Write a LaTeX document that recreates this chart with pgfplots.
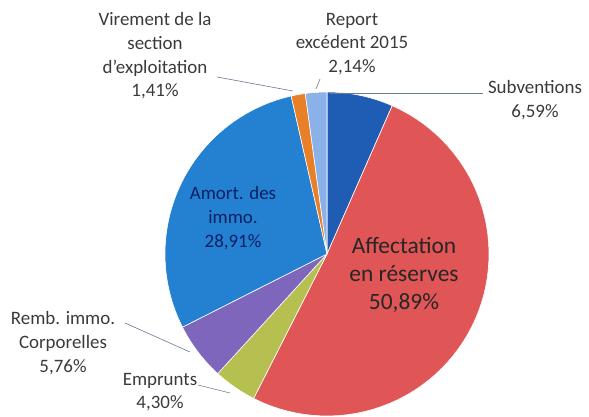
\documentclass[border=0pt]{standalone}
\usepackage{pgfplots}
\pgfplotsset{compat=1.18}
\usepackage{fontspec}
\setmainfont{Carlito}
\definecolor{cSub}{HTML}{1F5DB5}
\definecolor{cAff}{HTML}{E05656}
\definecolor{cEmp}{HTML}{B6C050}
\definecolor{cRem}{HTML}{7E66BC}
\definecolor{cAmo}{HTML}{2480D0}
\definecolor{cVir}{HTML}{E8802A}
\definecolor{cRep}{HTML}{8AB2E8}
\definecolor{txt}{HTML}{3A3A3A}
\definecolor{lead}{HTML}{6A7890}
% shares in percent, clockwise from 12 o'clock
\def\pSub{6.59}
\def\pAff{50.89}
\def\pEmp{4.30}
\def\pRem{5.76}
\def\pAmo{28.91}
\def\pVir{1.41}
\def\pRep{2.14}
\pgfmathsetmacro{\aA}{90}
\pgfmathsetmacro{\aB}{\aA-3.6*\pSub}
\pgfmathsetmacro{\aC}{\aB-3.6*\pAff}
\pgfmathsetmacro{\aD}{\aC-3.6*\pEmp}
\pgfmathsetmacro{\aE}{\aD-3.6*\pRem}
\pgfmathsetmacro{\aF}{\aE-3.6*\pAmo}
\pgfmathsetmacro{\aG}{\aF-3.6*\pVir}
\pgfmathsetmacro{\aH}{\aG-3.6*\pRep}
\begin{document}
\begin{tikzpicture}
\begin{axis}[width=589bp,height=417bp,scale only axis,hide axis,
  xmin=0,xmax=589,ymin=0,ymax=417,enlargelimits=false,clip=false]
\pgfplotsset{slice/.style={draw=white,line width=0.6pt,samples=60}}
\addplot[slice,fill=cSub,domain=\aB:\aA] ({327+162*cos(x)},{163+162*sin(x)}) -- (327,163) -- cycle;
\addplot[slice,fill=cAff,domain=\aC:\aB] ({327+162*cos(x)},{163+162*sin(x)}) -- (327,163) -- cycle;
\addplot[slice,fill=cEmp,domain=\aD:\aC] ({327+162*cos(x)},{163+162*sin(x)}) -- (327,163) -- cycle;
\addplot[slice,fill=cRem,domain=\aE:\aD] ({327+162*cos(x)},{163+162*sin(x)}) -- (327,163) -- cycle;
\addplot[slice,fill=cAmo,domain=\aF:\aE] ({327+162*cos(x)},{163+162*sin(x)}) -- (327,163) -- cycle;
\addplot[slice,fill=cVir,domain=\aG:\aF] ({327+162*cos(x)},{163+162*sin(x)}) -- (327,163) -- cycle;
\addplot[slice,fill=cRep,domain=\aH:\aG] ({327+162*cos(x)},{163+162*sin(x)}) -- (327,163) -- cycle;
% leader lines
\draw[lead,line width=0.6pt] (217,340) -- (293,326);
\draw[lead,line width=0.6pt] (320,338) -- (316,328);
\draw[lead,line width=0.6pt] (330,324) -- (483,324);
\draw[lead,line width=0.6pt] (125,94) -- (190,65);
\draw[lead,line width=0.6pt] (198,32) -- (230,24);
% labels
\node[txt,align=center,font=\fontsize{19}{23.8}\selectfont] at (155,361)
  {Virement de la\\section\\d’exploitation\\1,41\%};
\node[txt,align=center,font=\fontsize{19}{23.8}\selectfont] at (352,373)
  {Report\\excédent 2015\\2,14\%};
\node[txt,align=center,font=\fontsize{19}{23.8}\selectfont] at (535,317)
  {Subventions\\6,59\%};
\node[black!75!blue,align=center,font=\fontsize{19}{23.8}\selectfont,opacity=0.75] at (233,199)
  {Amort. des\\immo.\\28,91\%};
\node[black!85,align=center,font=\fontsize{23.5}{28.5}\selectfont] at (404,142)
  {Affectation\\en réserves\\50,89\%};
\node[txt,align=center,font=\fontsize{19}{23.8}\selectfont] at (63,74)
  {Remb. immo.\\Corporelles\\5,76\%};
\node[txt,align=center,font=\fontsize{19}{23.8}\selectfont] at (160,25)
  {Emprunts\\4,30\%};
\coordinate (bl) at (0,0);
\coordinate (tr) at (589,417);
\end{axis}
\pgfresetboundingbox
\useasboundingbox (bl) rectangle (tr);
\end{tikzpicture}
\end{document}
